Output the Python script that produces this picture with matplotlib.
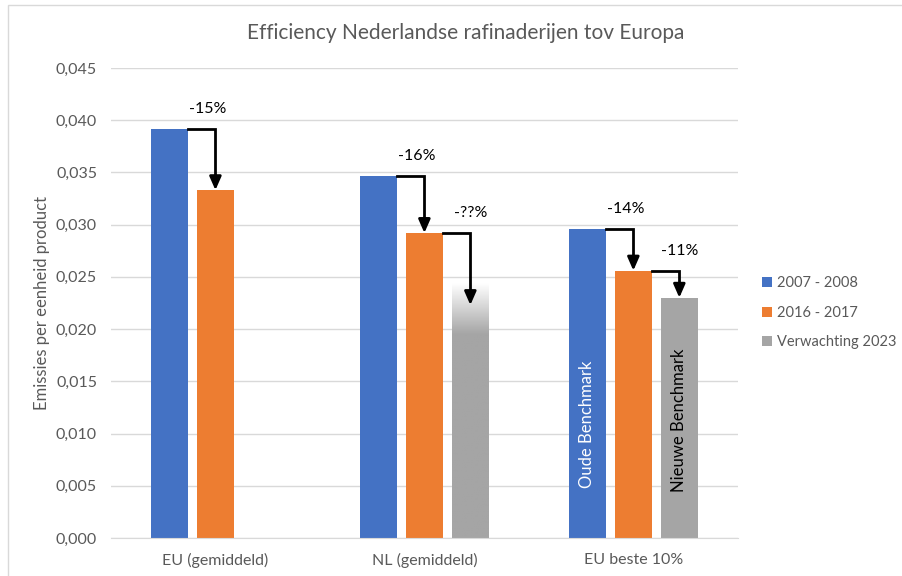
import numpy as np
import matplotlib
matplotlib.use("Agg")
import matplotlib.pyplot as plt
from matplotlib.patches import Rectangle
from matplotlib.ticker import FuncFormatter

plt.rcParams['font.family'] = ['Lato', 'DejaVu Sans']

# data
categories = ['EU (gemiddeld)', 'NL (gemiddeld)', 'EU beste 10%']
series = ['2007 - 2008', '2016 - 2017', 'Verwachting 2023']
v2007 = [0.0392, 0.0347, 0.0296]
v2016 = [0.0333, 0.0292, 0.0256]
v2023 = [np.nan, 0.0244, 0.0230]
colors = ['#4472C4', '#ED7D31', '#A5A5A5']

# arrows: (category, from series, to series, label)
steps = [(0, 0, 1, '-15%'), (1, 0, 1, '-16%'), (1, 1, 2, '-??%'),
         (2, 0, 1, '-14%'), (2, 1, 2, '-11%')]

fig = plt.figure(figsize=(9.02, 5.76), dpi=100)
ax = fig.add_axes([0.123, 0.066, 0.695, 0.816])

x = np.arange(len(categories))
w = 0.177
step = 0.22
vals = [v2007, v2016, v2023]
bars = []
for i, (s, v, c) in enumerate(zip(series, vals, colors)):
    xs = x + (i - 1) * step
    if i == 2:
        # projected NL value: grey bar fading out at the top
        b = ax.bar(xs, v, w, color='none', zorder=2)
        t = np.linspace(0, 1, 300)
        a = np.clip(t / 0.2, 0, 1)
        base = np.array(matplotlib.colors.to_rgb(c))
        grad = np.ones((300, 1, 3))
        for k in range(3):
            grad[:, 0, k] = base[k] * a + 1.0 * (1 - a)
        for xx, vv, patch in zip(xs, v, b.patches):
            if np.isnan(vv):
                continue
            if xx > 1.5:
                patch.set_facecolor(c)
                continue
            im = ax.imshow(grad, extent=[xx - w / 2, xx + w / 2, 0, vv],
                           aspect='auto', zorder=2, origin='upper')
            im.set_clip_path(patch)
        ax.bar([np.nan], [np.nan], color=c, label=s)
    else:
        ax.bar(xs, v, w, color=c, label=s, zorder=2)
    bars.append(xs)

handles, labels = ax.get_legend_handles_labels()

# arrows between bars
for cat, a, b_, lab in steps:
    x0 = bars[a][cat] + w / 2
    y0 = vals[a][cat]
    x1 = bars[b_][cat]
    y1 = vals[b_][cat]
    if lab == '-??%':
        y1 = 0.0223
    ax.plot([x0, x1, x1], [y0, y0, y1 + 0.0012], color='black', lw=2,
            solid_joinstyle='miter', zorder=4)
    ax.annotate('', xy=(x1, y1), xytext=(x1, y1 + 0.0014),
                arrowprops=dict(arrowstyle='-|>,head_width=0.35,head_length=0.8',
                                color='black', lw=2, shrinkA=0, shrinkB=0),
                zorder=4)
    lx = (x0 + x1) / 2 + 0.03 if a == 0 else x1
    ax.annotate(lab, xy=(lx, y0), xytext=(0, 9),
                textcoords='offset points', ha='center', va='bottom',
                fontsize=11.5, color='black', zorder=5,
                bbox=dict(boxstyle='square,pad=0.2', fc='white', ec='none'))

# labels inside bars
ax.text(bars[0][2], 0.0109, 'Oude Benchmark', rotation=90, ha='center',
        va='center', color='white', fontsize=12, zorder=5)
ax.text(bars[2][2], 0.0113, 'Nieuwe Benchmark', rotation=90, ha='center',
        va='center', color='black', fontsize=12, zorder=5)

ax.set_xlim(-0.5, 2.5)
ax.set_ylim(0, 0.045)
ax.set_yticks(np.arange(0, 0.0451, 0.005))
ax.yaxis.set_major_formatter(FuncFormatter(lambda v, p: f'{v:.3f}'.replace('.', ',')))
ax.set_xticks(x)
ax.set_xticklabels(categories)
ax.tick_params(axis='both', length=0, labelsize=11.5, colors='#595959')
ax.tick_params(axis='x', pad=11)
ax.tick_params(axis='y', pad=10)
ax.grid(axis='y', color='#D9D9D9', lw=1, zorder=0)
ax.set_axisbelow(True)
for sp in ['top', 'right', 'left']:
    ax.spines[sp].set_visible(False)
ax.spines['bottom'].set_color('#D9D9D9')
ax.set_ylabel('Emissies per eenheid product', fontsize=12, color='#595959', labelpad=4)

fig.text(0.516, 0.942, 'Efficiency Nederlandse rafinaderijen tov Europa',
         ha='center', va='center', fontsize=15, color='#595959')

fig.legend(handles, labels, loc='center left', bbox_to_anchor=(0.845, 0.457),
           frameon=False, fontsize=10.5, handlelength=0.65, handleheight=0.65,
           handletextpad=0.35, labelspacing=1.05, labelcolor='#595959',
           borderaxespad=0, borderpad=0)

# chart border
fig.patches.append(Rectangle((8 / 902, -0.01), 1.0, 1 - 5 / 576 + 0.01,
                             transform=fig.transFigure, fill=False,
                             ec='#D9D9D9', lw=1))

fig.savefig('out.png', dpi=100)
